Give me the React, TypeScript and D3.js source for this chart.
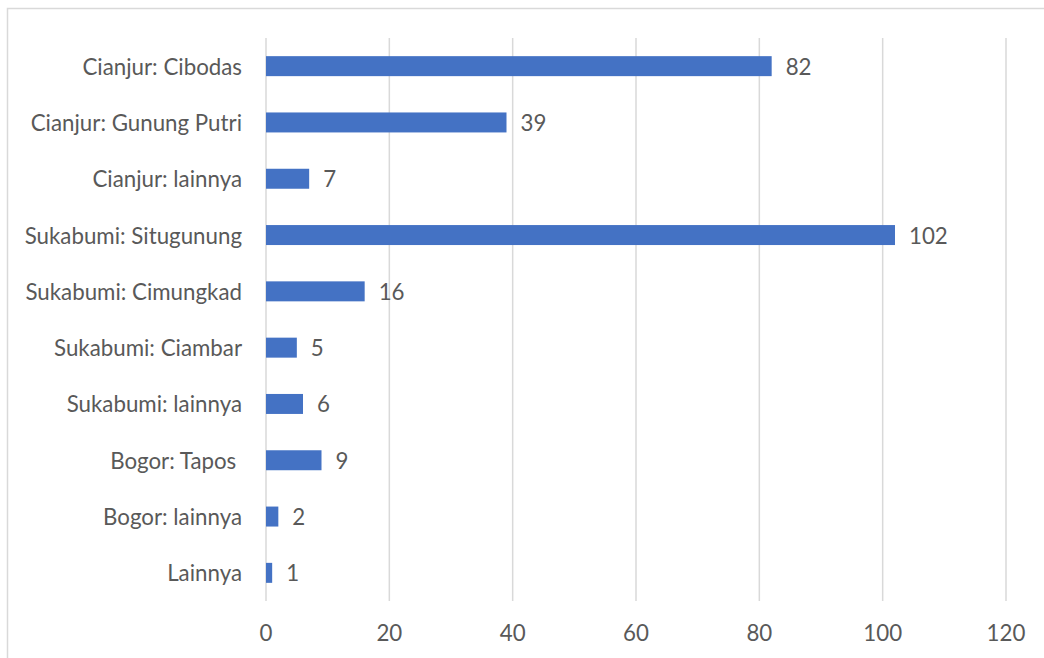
import React from "react";
import * as d3 from "d3";

const categories = [
  "Cianjur: Cibodas",
  "Cianjur: Gunung Putri",
  "Cianjur: lainnya",
  "Sukabumi: Situgunung",
  "Sukabumi: Cimungkad",
  "Sukabumi: Ciambar",
  "Sukabumi: lainnya",
  "Bogor: Tapos ",
  "Bogor: lainnya",
  "Lainnya",
];
const values = [82, 39, 7, 102, 16, 5, 6, 9, 2, 1];
const xTicks = [0, 20, 40, 60, 80, 100, 120];

const W = 1044;
const H = 658;
const FONT = "Lato, sans-serif";
const FS = 22.3;
const TEXT = "#595959";

export default function App() {
  const x = d3.scaleLinear().domain([0, 120]).range([266, 1006]);
  const y = d3.scaleBand<string>().domain(categories).range([38, 601]).paddingInner(0.645).paddingOuter(0.3225);
  return (
    <svg width={W} height={H} style={{ position: "absolute", left: 0, top: 0, background: "#fff" }}>
      <rect x={7.5} y={8.5} width={W + 10} height={H + 10} fill="#fff" stroke="#D9D9D9" strokeWidth={1.5} />
      {xTicks.map((t) => (
        <g key={t}>
          <line x1={x(t)} x2={x(t)} y1={38} y2={601} stroke="#D9D9D9" strokeWidth={1.5} />
          <text x={x(t)} y={632} textAnchor="middle" dominantBaseline="central" fontFamily={FONT} fontSize={FS} fill={TEXT}>
            {t}
          </text>
        </g>
      ))}
      {categories.map((c, i) => (
        <g key={c}>
          <text x={242} y={(y(c) ?? 0) + y.bandwidth() / 2} textAnchor="end" dominantBaseline="central" fontFamily={FONT} fontSize={FS} fill={TEXT} style={{ whiteSpace: "pre" }}>
            {c}
          </text>
          <rect x={x(0)} y={y(c)} width={x(values[i]) - x(0)} height={y.bandwidth()} fill="#4472C4" />
          <text x={x(values[i]) + 14} y={(y(c) ?? 0) + y.bandwidth() / 2} dominantBaseline="central" fontFamily={FONT} fontSize={FS} fill={TEXT}>
            {values[i]}
          </text>
        </g>
      ))}
    </svg>
  );
}
